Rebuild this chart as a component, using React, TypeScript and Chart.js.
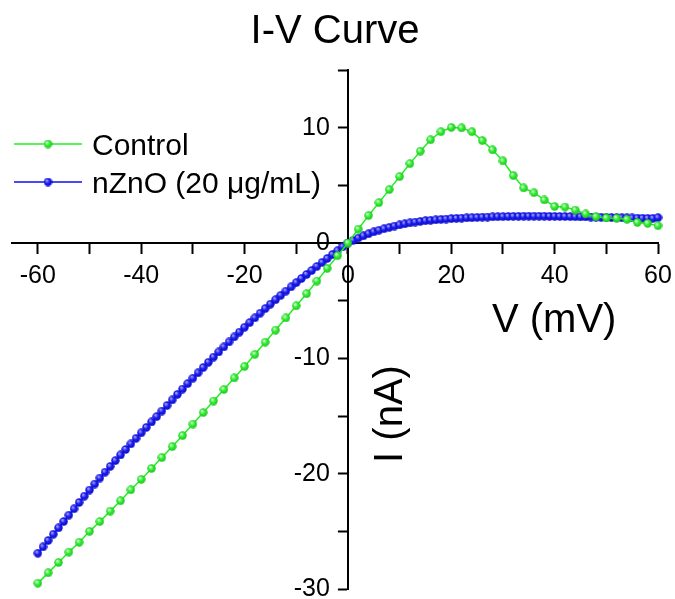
import React, { useEffect, useRef } from 'react';
import { Chart, registerables } from 'chart.js';

Chart.register(...registerables);

const FONT = '"Liberation Sans", Arial, sans-serif';

// Voltage sweeps (mV)
const sweep = (start: number, end: number, step: number) => {
  const out: number[] = [];
  for (let v = start; v <= end; v += step) out.push(v);
  return out;
};
const controlVoltage = sweep(-60, 60, 2);
const znoVoltage = sweep(-60, 60, 1);

// Control current (nA), one reading every 2 mV
const controlCurrent = [
  -29.5, -28.6, -27.7, -26.8, -25.95, -25.0, -24.15, -23.25, -22.35, -21.4,
  -20.5, -19.55, -18.6, -17.65, -16.7, -15.7, -14.7, -13.7, -12.7, -11.7,
  -10.7, -9.65, -8.6, -7.55, -6.5, -5.45, -4.4, -3.3, -2.2, -1.1,
  0,
  1.2, 2.38, 3.5, 4.63, 5.76, 6.88, 7.96, 8.95, 9.65, 10.02,
  9.98, 9.65, 8.88, 8.07, 7.11, 5.85, 4.77, 4.36, 3.73, 3.17,
  3.12, 2.86, 2.52, 2.28, 2.17, 2.15, 2.05, 1.78, 1.7, 1.5,
];

// nZnO (20 µg/mL) current (nA), one reading every 1 mV
const znoCurrent = [
  -26.9, -26.35, -25.8, -25.25, -24.7, -24.15, -23.6, -23.05, -22.5, -21.95,
  -21.42, -20.9, -20.38, -19.87, -19.37, -18.87, -18.38, -17.9, -17.42, -16.94,
  -16.46, -15.99, -15.52, -15.05, -14.57, -14.09, -13.61, -13.13, -12.66, -12.19,
  -11.72, -11.26, -10.8, -10.34, -9.89, -9.45, -9.01, -8.58, -8.15, -7.73,
  -7.31, -6.9, -6.49, -6.09, -5.69, -5.3, -4.92, -4.54, -4.17, -3.8,
  -3.44, -3.08, -2.73, -2.38, -2.03, -1.68, -1.34, -1.0, -0.67, -0.33,
  0,
  0.22, 0.43, 0.62, 0.8, 0.97, 1.11, 1.24, 1.36, 1.47, 1.57,
  1.66, 1.74, 1.81, 1.87, 1.93, 1.97, 2.01, 2.05, 2.08, 2.11,
  2.14, 2.16, 2.18, 2.2, 2.22, 2.24, 2.25, 2.27, 2.28, 2.29,
  2.3, 2.31, 2.31, 2.32, 2.32, 2.32, 2.32, 2.32, 2.31, 2.31,
  2.3, 2.3, 2.29, 2.28, 2.27, 2.26, 2.25, 2.24, 2.23, 2.22,
  2.21, 2.2, 2.19, 2.18, 2.17, 2.16, 2.15, 2.14, 2.14, 2.2,
];

const xTicks = [-60, -50, -40, -30, -20, -10, 0, 10, 20, 30, 40, 50, 60];
const yTicks = [-30, -25, -20, -15, -10, -5, 0, 5, 10, 15];

const seriesLabels = ['Control', 'nZnO (20 \u03BCg/mL)'];
const seriesLine = ['#1ef01e', '#0c0cf2'];
// ball shading: highlight, body, rim
const seriesBall = [
  ['#d0ffd0', '#33ee33', '#1cc01c'],
  ['#a0a0ff', '#1c1cf0', '#0a0ac4'],
];
const seriesBallSize = [9, 9];

const titleText = 'I-V Curve';
const xTitle = 'V (mV)';
const yTitle = 'I (nA)';

// Small shaded sphere used as the point marker
const makeBall = (size: number, [hi, body, rim]: string[]) => {
  const c = document.createElement('canvas');
  c.width = size;
  c.height = size;
  const g = c.getContext('2d')!;
  const r = size / 2;
  const grad = g.createRadialGradient(r * 0.7, r * 0.65, r * 0.1, r, r, r);
  grad.addColorStop(0, hi);
  grad.addColorStop(0.45, body);
  grad.addColorStop(1, rim);
  g.fillStyle = grad;
  g.beginPath();
  g.arc(r, r, r - 0.3, 0, Math.PI * 2);
  g.fill();
  return c;
};

// Axes cross at the origin, so they reserve no room in the layout
const zeroScaleSize = (scale: any) => {
  if (scale.isHorizontal()) scale.height = 0;
  else scale.width = 0;
  scale.paddingLeft = 0;
  scale.paddingRight = 0;
  scale.paddingTop = 0;
  scale.paddingBottom = 0;
};

// Moves the vertical axis onto V = 0 once the layout is done
const crossAxes = {
  id: 'crossAxes',
  afterLayout(chart: any) {
    const ys = chart.scales.y;
    const px = chart.scales.x.getPixelForValue(0);
    ys.right = px;
    ys.left = px - 90;
    ys.width = 90;
  },
};

// Legend in the upper left plus the two axis titles placed beside the crossing axes
const annotations = {
  id: 'ivAnnotations',
  afterDraw(chart: any) {
    const { ctx } = chart;
    ctx.save();
    ctx.fillStyle = '#000';
    ctx.font = `30px ${FONT}`;
    ctx.textBaseline = 'alphabetic';
    ctx.textAlign = 'left';
    const rows = [144, 182];
    chart.data.datasets.forEach((ds: any, i: number) => {
      const y = rows[i];
      ctx.strokeStyle = ds.borderColor;
      ctx.lineWidth = 1.5;
      ctx.beginPath();
      ctx.moveTo(14, y);
      ctx.lineTo(82, y);
      ctx.stroke();
      const ball = ds.pointStyle as HTMLCanvasElement;
      ctx.drawImage(ball, 48 - ball.width / 2, y - ball.height / 2);
      ctx.fillStyle = '#000';
      ctx.fillText(ds.label, 92, y + 11);
    });

    ctx.font = `40px ${FONT}`;
    ctx.fillText(xTitle, 492, 332);

    ctx.translate(402, 414);
    ctx.rotate(-Math.PI / 2);
    ctx.textAlign = 'center';
    ctx.fillText(yTitle, 0, 0);
    ctx.restore();
  },
};

export default function App() {
  const canvasRef = useRef<HTMLCanvasElement | null>(null);

  useEffect(() => {
    const canvas = canvasRef.current;
    if (!canvas) return;

    const makeSeries = (xs: number[], ys: number[]) => xs.map((x, i) => ({ x, y: ys[i] }));

    const axisGrid = {
      display: true,
      drawOnChartArea: false,
      drawTicks: true,
      tickLength: 10,
      tickWidth: 2,
      tickColor: '#000',
    };

    const chart = new Chart(canvas, {
      type: 'scatter',
      data: {
        datasets: [
          {
            label: seriesLabels[0],
            data: makeSeries(controlVoltage, controlCurrent),
            showLine: true,
            borderColor: seriesLine[0],
            borderWidth: 1.5,
            pointStyle: makeBall(seriesBallSize[0], seriesBall[0]),
            pointRadius: 4,
            clip: false,
          },
          {
            label: seriesLabels[1],
            data: makeSeries(znoVoltage, znoCurrent),
            showLine: true,
            borderColor: seriesLine[1],
            borderWidth: 1.5,
            pointStyle: makeBall(seriesBallSize[1], seriesBall[1]),
            pointRadius: 4,
            clip: false,
          },
        ],
      },
      options: {
        animation: false,
        responsive: false,
        maintainAspectRatio: false,
        events: [],
        layout: { padding: { left: 12, right: 17, top: 0, bottom: 10 } },
        plugins: {
          legend: { display: false },
          tooltip: { enabled: false },
          title: {
            display: true,
            text: titleText,
            color: '#000',
            font: { family: FONT, size: 40, weight: 'normal' },
            padding: { top: 8, bottom: 14 },
          },
        },
        scales: {
          x: {
            type: 'linear',
            min: -65,
            max: 60,
            position: { y: 0 },
            afterBuildTicks: (s: any) => {
              s.ticks = xTicks.map((value) => ({ value }));
            },
            afterFit: zeroScaleSize,
            grid: axisGrid,
            border: { display: true, color: '#000', width: 2 },
            ticks: {
              color: '#000',
              font: { family: FONT, size: 25 },
              padding: 8,
              maxRotation: 0,
              autoSkip: false,
              callback: (v: any) => (Number(v) % 20 === 0 ? String(v) : ''),
            },
          },
          y: {
            type: 'linear',
            min: -30,
            max: 15,
            position: 'left',
            afterBuildTicks: (s: any) => {
              s.ticks = yTicks.map((value) => ({ value }));
            },
            afterFit: zeroScaleSize,
            grid: axisGrid,
            border: { display: true, color: '#000', width: 2 },
            ticks: {
              color: '#000',
              font: { family: FONT, size: 25 },
              padding: 8,
              autoSkip: false,
              callback: (v: any) => (Number(v) % 10 === 0 ? String(v) : ''),
            },
          },
        },
      },
      plugins: [crossAxes, annotations],
    });

    return () => chart.destroy();
  }, []);

  return (
    <div style={{ position: 'absolute', left: 0, top: 0, width: 675, height: 599, background: '#fff' }}>
      <canvas ref={canvasRef} width={675} height={599} style={{ display: 'block' }} />
    </div>
  );
}
